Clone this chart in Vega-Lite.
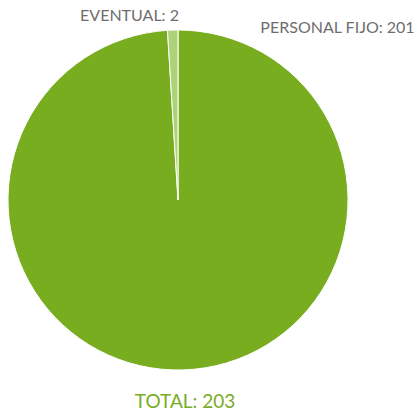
{
  "$schema": "https://vega.github.io/schema/vega-lite/v6.json",
  "width": 340,
  "height": 340,
  "autosize": {"type": "none"},
  "padding": {"left": 8, "top": 30, "right": 70, "bottom": 43},
  "background": "white",
  "view": {"stroke": null},
  "title": {
    "text": "TOTAL: 203",
    "orient": "bottom",
    "anchor": "middle",
    "dx": 7,
    "offset": 21,
    "baseline": "top",
    "font": "Lato",
    "fontSize": 19,
    "fontWeight": "normal",
    "color": "#78ad25"
  },
  "data": {
    "values": [
      {"category": "PERSONAL FIJO", "value": 201, "rank": 1},
      {"category": "EVENTUAL", "value": 2, "rank": 2}
    ]
  },
  "transform": [
    {"stack": "value", "groupby": [], "sort": [{"field": "rank"}], "as": ["v0", "v1"]}
  ],
  "layer": [
    {
      "mark": {"type": "arc", "stroke": "white", "strokeWidth": 1},
      "encoding": {
        "theta": {"field": "v0", "type": "quantitative", "scale": {"domain": [0, 203]}},
        "theta2": {"field": "v1"},
        "color": {
          "field": "category",
          "type": "nominal",
          "scale": {"domain": ["PERSONAL FIJO", "EVENTUAL"], "range": ["#77ad1e", "#aed27a"]},
          "legend": null
        }
      }
    },
    {
      "transform": [{"filter": "datum.category === 'EVENTUAL'"}],
      "mark": {"type": "text", "radius": 184, "align": "right", "baseline": "middle", "dx": 1, "font": "Lato", "fontSize": 16, "color": "#6e6e6e"},
      "encoding": {
        "theta": {"field": "v1", "type": "quantitative"},
        "text": {"value": "EVENTUAL: 2"}
      }
    },
    {
      "transform": [{"filter": "datum.category === 'PERSONAL FIJO'"}],
      "mark": {"type": "text", "radius": 172, "align": "left", "baseline": "middle", "dx": 93, "font": "Lato", "fontSize": 16, "color": "#6e6e6e"},
      "encoding": {
        "theta": {"field": "v1", "type": "quantitative"},
        "text": {"value": "PERSONAL FIJO: 201"}
      }
    }
  ]
}
